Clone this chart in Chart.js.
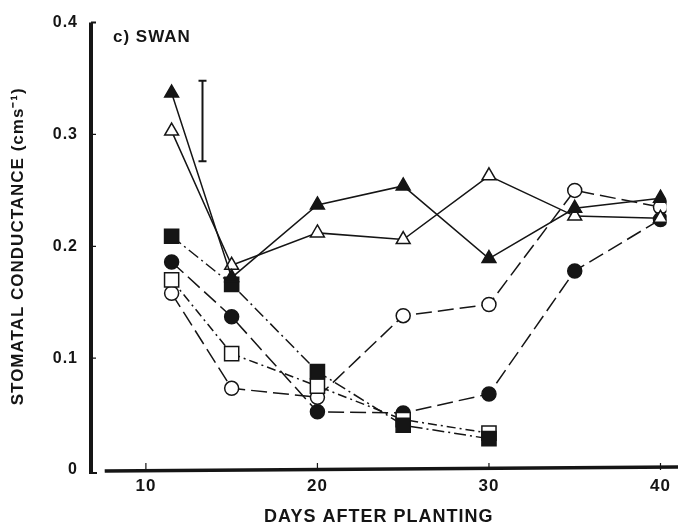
<!DOCTYPE html>
<html>
<head>
<meta charset="utf-8">
<script src="https://cdn.jsdelivr.net/npm/chart.js@4"></script>
<style>
  html, body { margin: 0; padding: 0; background: #fff; }
  #wrap { width: 678px; height: 531px; }
</style>
</head>
<body>
<div id="wrap"><canvas id="swanChart" width="678" height="531"></canvas></div>
<script>
// data
const days = [11.5, 15, 20, 25, 30, 35, 40];
const xTicks = [10, 20, 30, 40];
const yTicks = [0, 0.1, 0.2, 0.3, 0.4];

const filledTriangle = [0.337, 0.172, 0.237, 0.254, 0.189, 0.234, 0.243];
const openTriangle   = [0.303, 0.183, 0.212, 0.206, 0.263, 0.227, 0.225];
const filledSquare   = [0.209, 0.166, 0.088, 0.040, 0.028, null, null];
const openSquare     = [0.170, 0.104, 0.075, 0.045, 0.033, null, null];
const filledCircle   = [0.186, 0.137, 0.052, 0.051, 0.068, 0.178, 0.224];
const openCircle     = [0.158, 0.073, 0.065, 0.138, 0.148, 0.250, 0.235];

const errDay = [13.3, 13.3];
const errVals = [0.276, 0.348];

const ink = "#151515";
const fontFam = "'Liberation Sans', Arial, sans-serif";

function pts(vals) {
  return days.map((d, i) => ({ x: d, y: vals[i] })).filter(p => p.y !== null);
}

function series(vals, style, filled, dash, radius) {
  return {
    data: pts(vals),
    borderColor: ink,
    borderWidth: 1.5,
    borderDash: dash,
    pointStyle: style,
    pointRadius: radius,
    pointBackgroundColor: filled ? ink : "#fff",
    pointBorderColor: ink,
    pointBorderWidth: 1.5,
    tension: 0,
    fill: false
  };
}

// wide lettering like the printed figure
const spacing = {
  id: "spacing",
  beforeLayout(chart) { chart.ctx.letterSpacing = "1px"; },
  beforeDraw(chart) { chart.ctx.letterSpacing = "1px"; }
};

// axis lines, inward ticks and the panel label
const frame = {
  id: "frame",
  afterDraw(chart) {
    const c = chart.ctx;
    const xs = chart.scales.x;
    const ys = chart.scales.y;
    const y0 = ys.getPixelForValue(0);
    c.save();
    c.strokeStyle = ink;
    c.lineCap = "butt";
    // y axis
    c.lineWidth = 4;
    c.beginPath();
    c.moveTo(xs.left, ys.top);
    c.lineTo(xs.left, y0 + 3);
    c.stroke();
    c.lineWidth = 2;
    c.beginPath();
    c.moveTo(xs.left - 2, y0 + 3);
    c.lineTo(xs.left + 6, y0 + 3);
    c.moveTo(xs.left, ys.top);
    c.lineTo(xs.left + 5, ys.top);
    c.stroke();
    // x axis
    c.lineWidth = 3.5;
    c.beginPath();
    c.moveTo(xs.getPixelForValue(7.6), y0 + 1);
    c.lineTo(chart.width, y0 - 3);
    c.stroke();
    // ticks
    c.lineWidth = 1.2;
    c.beginPath();
    xTicks.forEach(v => {
      const px = xs.getPixelForValue(v);
      c.moveTo(px, y0);
      c.lineTo(px, y0 - 7);
    });
    yTicks.slice(1, 4).forEach(v => {
      const py = ys.getPixelForValue(v);
      c.moveTo(xs.left, py);
      c.lineTo(xs.left + 5, py);
    });
    c.stroke();
    // panel label
    c.fillStyle = ink;
    c.font = "bold 17px " + fontFam;
    c.textBaseline = "middle";
    c.fillText("c) SWAN", 113, 37);
    c.restore();
  }
};

new Chart(document.getElementById("swanChart").getContext("2d"), {
  type: "line",
  data: {
    datasets: [
      series(filledTriangle, "triangle", true, [], 8),
      series(openTriangle, "triangle", false, [], 8),
      series(filledSquare, "rect", true, [12, 4, 2, 4], 10),
      series(openSquare, "rect", false, [9, 4, 2, 4], 10),
      series(filledCircle, "circle", true, [16, 6], 7),
      series(openCircle, "circle", false, [16, 6], 7),
      {
        data: errDay.map((d, i) => ({ x: d, y: errVals[i] })),
        borderColor: ink,
        borderWidth: 2,
        pointStyle: "line",
        pointRadius: 4,
        pointBorderColor: ink,
        pointBorderWidth: 2
      }
    ]
  },
  options: {
    responsive: false,
    animation: false,
    layout: { padding: { top: 15, right: 0, left: 0, bottom: 0 } },
    plugins: {
      legend: { display: false },
      tooltip: { enabled: false }
    },
    scales: {
      x: {
        type: "linear",
        min: 6.8,
        max: 40.35,
        afterBuildTicks: s => { s.ticks = xTicks.map(v => ({ value: v })); },
        afterFit: s => { s.height = 61; },
        grid: { display: false, drawTicks: false },
        border: { display: false },
        ticks: {
          color: ink,
          padding: 6,
          font: { family: fontFam, size: 17, weight: "bold" }
        },
        title: {
          display: true,
          text: "DAYS AFTER PLANTING",
          color: ink,
          padding: { top: 0, bottom: 3 },
          font: { family: fontFam, size: 18, weight: "bold" }
        }
      },
      y: {
        min: 0,
        max: 0.4,
        afterBuildTicks: s => { s.ticks = yTicks.map(v => ({ value: v })); },
        afterFit: s => { s.width = 91; },
        grid: { display: false, drawTicks: false },
        border: { display: false },
        ticks: {
          color: ink,
          padding: 13,
          font: { family: fontFam, size: 16, weight: "bold" },
          callback: v => (v === 0 ? "0" : v.toFixed(1))
        },
        title: {
          display: true,
          text: "STOMATAL CONDUCTANCE (cms⁻¹)",
          color: ink,
          padding: { top: 8, bottom: 0 },
          font: { family: fontFam, size: 17, weight: "bold" }
        }
      }
    }
  },
  plugins: [spacing, frame]
});
</script>
</body>
</html>
